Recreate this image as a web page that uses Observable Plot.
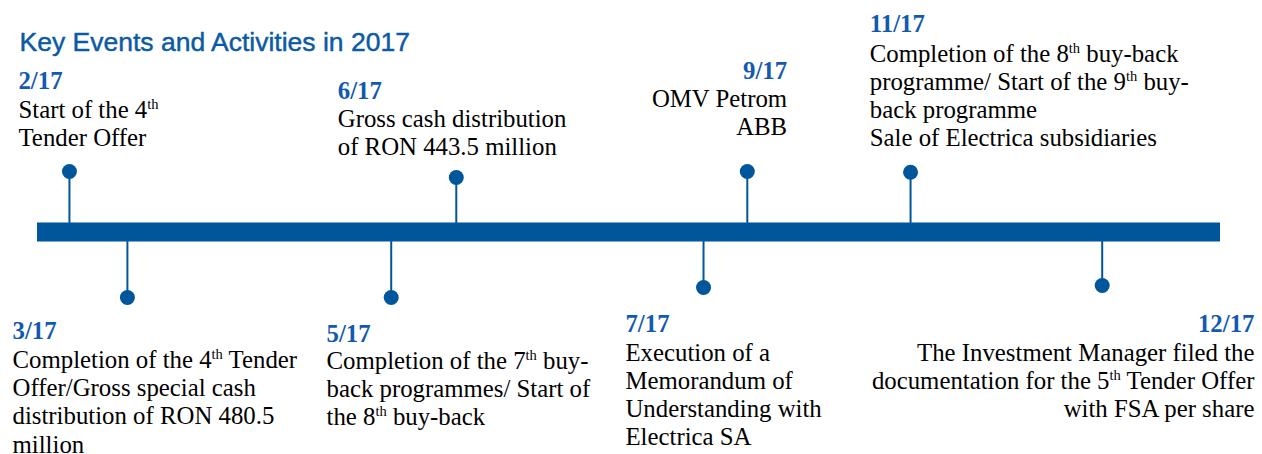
<!DOCTYPE html>
<html>
<head>
<meta charset="utf-8">
<script src="https://cdn.jsdelivr.net/npm/d3@7"></script>
<script src="https://cdn.jsdelivr.net/npm/@observablehq/plot@0.6"></script>
<style>
  html, body { margin: 0; padding: 0; background: #ffffff; }
  #chart svg { display: block; }
</style>
</head>
<body>
<div id="chart"></div>
<script>
// ---------- data ----------
const titleText = "Key Events and Activities in 2017";
const dates = ["2/17", "3/17", "5/17", "6/17", "7/17", "9/17", "11/17", "12/17"];
// position of each event along the timeline bar (0 = left end, 100 = right end)
const timelinePos = [2.7, 7.6, 29.9, 35.4, 56.3, 60.0, 73.8, 90.0];
// signed stem length (up = above the bar, down = below)
const stemLength = [60.5, -65.5, -65.5, 54.5, -55.5, 60.5, 59.8, -53.5];
// "^th" marks a superscript ordinal suffix
const descriptions = [
  "Start of the 4^th\nTender Offer",
  "Completion of the 4^th Tender\nOffer/Gross special cash\ndistribution of RON 480.5\nmillion",
  "Completion of the 7^th buy-\nback programmes/ Start of\nthe 8^th buy-back",
  "Gross cash distribution\nof RON 443.5 million",
  "Execution of a\nMemorandum of\nUnderstanding with\nElectrica SA",
  "OMV Petrom\nABB",
  "Completion of the 8^th buy-back\nprogramme/ Start of the 9^th buy-\nback programme\nSale of Electrica subsidiaries",
  "The Investment Manager filed the\ndocumentation for the 5^th Tender Offer\nwith FSA per share"
];

// ---------- layout (label placement, in timeline / offset units) ----------
const labelX = [-1.61, -2.11, 24.43, 25.38, 49.70, 63.37, 70.35, 102.87];
const labelAlign = ["start", "start", "start", "start", "start", "end", "start", "end"];
const dateY = [143.2, -106.8, -109.5, 133.5, -100.2, 153.2, 199.8, -100.2];
const bodyY = [114.2, -136.3, -136.6, 104.8, -128.5, 124.8, 169.8, -128.5];

const events = dates.map((d, i) => ({
  date: d, pos: timelinePos[i], stem: stemLength[i], text: descriptions[i],
  lx: labelX[i], align: labelAlign[i], dy: dateY[i], by: bodyY[i]
}));

// ---------- style ----------
const barColor = "#00569b";
const dateColor = "#1259b0";
const titleColor = "#0b5aa5";
const serif = "'Liberation Serif', 'Times New Roman', serif";
const fontSize = 24.8;
const linePx = 28.1;
const lineHeight = linePx / fontSize;

const W = 1262, H = 454;

const textMarks = [];
for (const align of ["start", "end"]) {
  const sel = (d) => d.align === align;
  textMarks.push(
    Plot.text(events, {
      filter: sel, x: "lx", y: "dy", text: "date",
      textAnchor: align, lineAnchor: "bottom",
      fontFamily: serif, fontSize, fontWeight: "bold", fill: dateColor
    }),
    Plot.text(events, {
      filter: sel, x: "lx", y: "by", text: "text",
      textAnchor: align, lineAnchor: "top", lineHeight,
      dy: -0.71 * linePx,
      fontFamily: serif, fontSize, fill: "#000000"
    })
  );
}

const svg = Plot.plot({
  width: W,
  height: H,
  margin: 0,
  x: { domain: [0, 100], range: [37, 1220], axis: null },
  y: { domain: [231.5, -222.5], range: [0, H], axis: null },
  marks: [
    Plot.text([titleText], {
      frameAnchor: "top-left", dx: 19, dy: 50, text: (d) => d,
      textAnchor: "start", lineAnchor: "bottom",
      fontFamily: "'Liberation Sans Narrow', 'Arial Narrow', 'Liberation Sans', sans-serif",
      fontSize: 26.5, fill: titleColor, stroke: titleColor, strokeWidth: 0.45
    }),
    Plot.ruleX(events, { x: "pos", y1: 0, y2: "stem", stroke: barColor, strokeWidth: 2 }),
    Plot.ruleY([0], { x1: 0, x2: 100, stroke: barColor, strokeWidth: 19 }),
    Plot.dot(events, { x: "pos", y: "stem", r: 7.5, fill: barColor, stroke: "none" }),
    ...textMarks
  ]
});

// turn "^xx" into real superscript tspans
const NS = "http://www.w3.org/2000/svg";
function supify(el) {
  for (const node of Array.from(el.childNodes)) {
    if (node.nodeType === 3 && node.nodeValue.includes("^")) {
      const parts = node.nodeValue.split(/\^(\w+)/);
      const frag = document.createDocumentFragment();
      parts.forEach((p, k) => {
        if (!p) return;
        const t = document.createElementNS(NS, "tspan");
        if (k % 2) {
          t.setAttribute("font-size", "14.5");
          t.setAttribute("baseline-shift", "9");
        }
        t.textContent = p;
        frag.appendChild(t);
      });
      el.replaceChild(frag, node);
    }
  }
}
svg.querySelectorAll("text, tspan").forEach(supify);

document.getElementById("chart").appendChild(svg);
</script>
</body>
</html>
